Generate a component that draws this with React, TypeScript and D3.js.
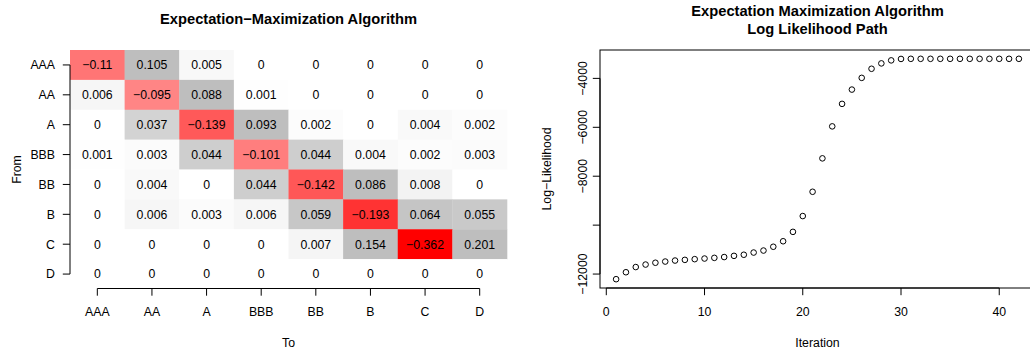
import React from "react";
import * as d3 from "d3";

// ---------- Data ----------
const ratings = ["AAA", "AA", "A", "BBB", "BB", "B", "C", "D"];
const fromAAA = [-0.11, 0.105, 0.005, 0, 0, 0, 0, 0];
const fromAA = [0.006, -0.095, 0.088, 0.001, 0, 0, 0, 0];
const fromA = [0, 0.037, -0.139, 0.093, 0.002, 0, 0.004, 0.002];
const fromBBB = [0.001, 0.003, 0.044, -0.101, 0.044, 0.004, 0.002, 0.003];
const fromBB = [0, 0.004, 0, 0.044, -0.142, 0.086, 0.008, 0];
const fromB = [0, 0.006, 0.003, 0.006, 0.059, -0.193, 0.064, 0.055];
const fromC = [0, 0, 0, 0, 0.007, 0.154, -0.362, 0.201];
const fromD = [0, 0, 0, 0, 0, 0, 0, 0];
const generatorRows = [fromAAA, fromAA, fromA, fromBBB, fromBB, fromB, fromC, fromD];

const logLik = [
  -12210, -11926, -11714, -11612, -11538, -11489, -11448, -11420, -11391, -11366,
  -11338, -11305, -11256, -11211, -11121, -11039, -10884, -10659, -10275, -9629,
  -8636, -7270, -5962, -5042, -4458, -3979, -3607, -3387, -3264, -3205,
  -3200, -3200, -3200, -3200, -3200, -3200, -3200, -3200, -3200, -3200,
  -3200, -3200,
];
const xTicks = [0, 10, 20, 30, 40];
const yTicks = [-12000, -10000, -8000, -6000, -4000];
const yTickLabels = ["\u221212000", "", "\u22128000", "\u22126000", "\u22124000"];

// ---------- Styles ----------
const FONT = "'Liberation Sans', Arial, Helvetica, sans-serif";
const FS = 12.3;
const TFS = 14.7;

const fmt = (v: number) => (v === 0 ? "0" : String(v).replace("-", "\u2212"));

const negColor = d3
  .scaleLinear<string>()
  .domain([-0.362, -0.193, -0.14, -0.1, -0.09, 0])
  .range(["#ff0000", "#ff3333", "#ff5858", "#ff7f7f", "#ff8a8a", "#ffffff"])
  .clamp(true);
const posColor = d3
  .scaleLinear<string>()
  .domain([0, 0.01, 0.04, 0.08])
  .range(["#ffffff", "#f0f0f0", "#d0d0d0", "#bebebe"])
  .clamp(true);
const cellColor = (v: number) => (v < 0 ? negColor(v) : posColor(v));

export default function App() {
  // Heatmap panel
  const hx = d3.scaleBand<string>().domain(ratings).range([70, 507]).padding(0);
  const hy = d3.scaleBand<string>().domain(ratings).range([50, 289]).padding(0);
  const cx = (r: string) => (hx(r) as number) + hx.bandwidth() / 2;
  const cy = (r: string) => (hy(r) as number) + hy.bandwidth() / 2;
  const hAxisY = 288.5;
  const hAxisX = 70;

  // Log-likelihood panel
  const iters = logLik.map((_, i) => i + 1);
  const [lmin, lmax] = d3.extent(logLik) as [number, number];
  const lr = lmax - lmin;
  const [imin, imax] = d3.extent(iters) as [number, number];
  const ir = imax - imin;
  const sx = d3.scaleLinear().domain([imin - 0.04 * ir, imax + 0.04 * ir]).range([600, 1035]);
  const sy = d3.scaleLinear().domain([lmin - 0.04 * lr, lmax + 0.04 * lr]).range([288, 50]);
  const [px0, px1] = sx.range();
  const [py0, py1] = sy.range();

  return (
    <svg
      width={1030}
      height={354}
      style={{ position: "absolute", left: 0, top: 0, background: "#fff" }}
      fontFamily={FONT}
    >
      <rect x={0} y={0} width={1030} height={354} fill="#fff" />
      {/* ===== Left: heatmap ===== */}
      <text x={288.5} y={24} textAnchor="middle" fontWeight="bold" fontSize={TFS}>
        Expectation{"\u2212"}Maximization Algorithm
      </text>
      {generatorRows.map((row, i) =>
        row.map((v, j) => (
          <rect
            key={`c${i}-${j}`}
            x={hx(ratings[j])}
            y={hy(ratings[i])}
            width={hx.bandwidth() + 0.3}
            height={hy.bandwidth() + 0.3}
            fill={cellColor(v)}
          />
        ))
      )}
      {generatorRows.map((row, i) =>
        row.map((v, j) => (
          <text
            key={`t${i}-${j}`}
            x={cx(ratings[j])}
            y={cy(ratings[i])}
            dy="0.36em"
            textAnchor="middle"
            fontSize={FS}
            fill="#000"
          >
            {fmt(v)}
          </text>
        ))
      )}
      {/* y axis */}
      <line x1={hAxisX} x2={hAxisX} y1={cy(ratings[0])} y2={cy(ratings[ratings.length - 1])} stroke="#000" />
      {ratings.map((r) => (
        <g key={`ya${r}`}>
          <line x1={hAxisX - 7.2} x2={hAxisX} y1={cy(r)} y2={cy(r)} stroke="#000" />
          <text x={55} y={cy(r)} dy="0.36em" textAnchor="end" fontSize={FS}>
            {r}
          </text>
        </g>
      ))}
      {/* x axis */}
      <line x1={cx(ratings[0])} x2={cx(ratings[ratings.length - 1])} y1={hAxisY} y2={hAxisY} stroke="#000" />
      {ratings.map((r) => (
        <g key={`xa${r}`}>
          <line x1={cx(r)} x2={cx(r)} y1={hAxisY} y2={hAxisY + 7.2} stroke="#000" />
          <text x={cx(r)} y={316} textAnchor="middle" fontSize={FS}>
            {r}
          </text>
        </g>
      ))}
      <text x={288.5} y={347} textAnchor="middle" fontSize={FS}>
        To
      </text>
      <text transform={`translate(21,169.5) rotate(-90)`} textAnchor="middle" fontSize={FS}>
        From
      </text>

      {/* ===== Right: log likelihood ===== */}
      <text x={(px0 + px1) / 2} y={15.7} textAnchor="middle" fontWeight="bold" fontSize={TFS}>
        Expectation Maximization Algorithm
      </text>
      <text x={(px0 + px1) / 2} y={34} textAnchor="middle" fontWeight="bold" fontSize={TFS}>
        Log Likelihood Path
      </text>
      <rect x={px0} y={py1} width={px1 - px0} height={py0 - py1} fill="none" stroke="#000" />
      {logLik.map((v, i) => (
        <circle key={`p${i}`} cx={sx(iters[i])} cy={sy(v)} r={2.8} fill="none" stroke="#000" strokeWidth={1} />
      ))}
      {/* x axis */}
      <line x1={sx(xTicks[0])} x2={sx(xTicks[xTicks.length - 1])} y1={py0} y2={py0} stroke="#000" />
      {xTicks.map((t) => (
        <g key={`rx${t}`}>
          <line x1={sx(t)} x2={sx(t)} y1={py0} y2={py0 + 7.2} stroke="#000" />
          <text x={sx(t)} y={316} textAnchor="middle" fontSize={FS}>
            {t}
          </text>
        </g>
      ))}
      <text x={(px0 + px1) / 2} y={346.5} textAnchor="middle" fontSize={FS}>
        Iteration
      </text>
      {/* y axis */}
      <line x1={px0} x2={px0} y1={sy(yTicks[0])} y2={sy(yTicks[yTicks.length - 1])} stroke="#000" />
      {yTicks.map((t, i) => (
        <g key={`ry${t}`}>
          <line x1={px0 - 7.2} x2={px0} y1={sy(t)} y2={sy(t)} stroke="#000" />
          {yTickLabels[i] && (
            <text transform={`translate(586.5,${sy(t)}) rotate(-90)`} textAnchor="middle" fontSize={FS}>
              {yTickLabels[i]}
            </text>
          )}
        </g>
      ))}
      <text transform={`translate(551,${(py0 + py1) / 2}) rotate(-90)`} textAnchor="middle" fontSize={FS}>
        Log{"\u2212"}Likelihood
      </text>
    </svg>
  );
}
